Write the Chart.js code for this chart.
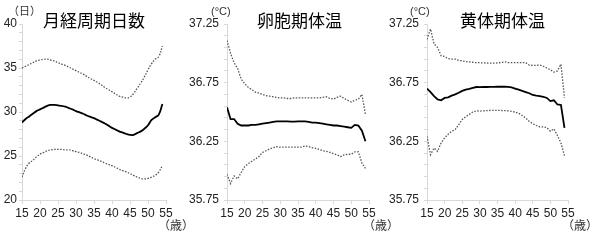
<!DOCTYPE html>
<html>
<head>
<meta charset="utf-8">
<script src="https://cdn.jsdelivr.net/npm/chart.js@4"></script>
<style>
  body { margin: 0; background: #fff; }
  #wrap { position: relative; width: 600px; height: 243px; overflow: hidden; }
  .panel { position: absolute; top: 0; }
  .txt { position: absolute; white-space: nowrap; color: #000; font-family: "Noto Sans CJK JP", sans-serif; line-height: 1; }
  .title { font-size: 17px; }
  .unit { font-size: 11px; color: #333; }
</style>
</head>
<body>
<div id="wrap">
  <canvas id="c1" class="panel" width="195" height="243" style="left:0"></canvas>
  <canvas id="c2" class="panel" width="210" height="243" style="left:185px"></canvas>
  <canvas id="c3" class="panel" width="215" height="243" style="left:385px"></canvas>

  <div class="txt title" style="left:43px;top:11px">月経周期日数</div>
  <div class="txt title" style="left:257px;top:11px">卵胞期体温</div>
  <div class="txt title" style="left:460px;top:11px">黄体期体温</div>

  <div class="txt unit" style="left:8px;top:5px">（日）</div>
  <div class="txt unit" style="left:211px;top:6px;font-family:'Liberation Sans',sans-serif">(°C)</div>
  <div class="txt unit" style="left:410px;top:6px;font-family:'Liberation Sans',sans-serif">(°C)</div>

  <div class="txt unit" style="left:158px;top:219px;font-size:12px">（歳）</div>
  <div class="txt unit" style="left:363px;top:219px;font-size:12px">（歳）</div>
  <div class="txt unit" style="left:562px;top:219px;font-size:12px">（歳）</div>
</div>

<script>
// --- DONNEES ---
const ages = [15,16,17,18,19,20,21,22,23,24,25,26,27,28,29,30,31,32,33,34,35,36,37,38,39,40,41,42,43,44,45,46,47,48,49,50,51,52,53,54];
const xTicks = [15, 20, 25, 30, 35, 40, 45, 50, 55];

// 月経周期日数
const cycleMean = [28.8,29.2,29.5,29.8,30.1,30.3,30.5,30.7,30.8,30.8, 30.75,30.7,30.6,30.45,30.3,30.1,29.95,29.8,29.6,29.45, 29.3,29.1,28.9,28.7,28.45,28.2,28.0,27.8,27.65,27.5, 27.4,27.4,27.6,27.8,28.1,28.5,29.1,29.4,29.7,30.9];
const cycleUpper = [35.0,35.2,35.4,35.6,35.8,35.9,36.0,36.0,35.9,35.8, 35.6,35.45,35.3,35.1,34.9,34.7,34.5,34.3,34.05,33.8, 33.6,33.35,33.1,32.8,32.55,32.3,32.05,31.8,31.7,31.6, 31.7,32.1,32.7,33.3,34.0,34.8,35.5,36.0,36.3,37.5];
const cycleLower = [22.6,23.6,24.2,24.5,24.9,25.2,25.4,25.6,25.7,25.75, 25.75,25.75,25.7,25.7,25.6,25.5,25.4,25.25,25.1,24.9, 24.7,24.55,24.4,24.2,24.05,23.9,23.7,23.5,23.35,23.2, 23.0,22.8,22.6,22.45,22.4,22.45,22.6,22.8,23.2,23.9];
const cycleTicks = [20, 25, 30, 35, 40];

// 卵胞期体温
const follMean = [36.54,36.44,36.44,36.40,36.385,36.385,36.385,36.39,36.39,36.395, 36.40,36.405,36.41,36.415,36.42,36.42,36.42,36.42,36.418,36.418, 36.42,36.42,36.42,36.415,36.41,36.41,36.405,36.40,36.395,36.39, 36.385,36.385,36.38,36.375,36.37,36.365,36.39,36.385,36.34,36.25];
const follUpper = [37.11,37.00,36.92,36.87,36.78,36.74,36.71,36.69,36.67,36.66, 36.65,36.64,36.635,36.63,36.625,36.62,36.62,36.615,36.615,36.62, 36.62,36.62,36.62,36.62,36.62,36.62,36.62,36.625,36.63,36.615, 36.61,36.625,36.635,36.615,36.60,36.585,36.60,36.61,36.65,36.48];
const follLower = [35.97,35.89,35.955,35.93,35.985,36.035,36.06,36.08,36.10,36.12, 36.155,36.17,36.185,36.195,36.205,36.20,36.20,36.20,36.20,36.20, 36.20,36.20,36.21,36.205,36.195,36.19,36.18,36.17,36.165,36.155, 36.145,36.135,36.12,36.135,36.14,36.14,36.16,36.16,36.065,36.02];

// 黄体期体温
const lutMean = [36.70,36.67,36.636,36.607,36.60,36.62,36.625,36.64,36.65,36.664, 36.68,36.69,36.697,36.705,36.713,36.712,36.713,36.713,36.714,36.714, 36.715,36.715,36.716,36.714,36.71,36.70,36.69,36.68,36.67,36.66, 36.645,36.64,36.636,36.63,36.62,36.593,36.60,36.564,36.56,36.364];
const lutUpper = [37.12,37.207,37.08,37.05,36.98,36.973,36.955,36.95,36.95,36.94, 36.936,36.93,36.927,36.924,36.92,36.92,36.918,36.917,36.916,36.916, 36.918,36.922,36.927,36.922,36.92,36.92,36.92,36.92,36.92,36.90, 36.897,36.898,36.90,36.89,36.875,36.86,36.84,36.85,36.907,36.62];
const lutLower = [36.293,36.136,36.193,36.164,36.236,36.279,36.31,36.336,36.35,36.393, 36.436,36.46,36.48,36.50,36.51,36.508,36.51,36.512,36.513,36.513, 36.513,36.513,36.512,36.51,36.505,36.499,36.49,36.47,36.45,36.42, 36.40,36.385,36.373,36.373,36.367,36.336,36.356,36.30,36.236,36.127];
const tempTicks = [35.75, 36.25, 36.75, 37.25];

// --- FONCTIONS ---
function pts(values) {
    return ages.map((a, i) => ({ x: a, y: values[i] }));
}

function minorTicks(min, max, step) {
    const out = [];
    const n = Math.round((max - min) / step);
    for (let i = 0; i <= n; i++) out.push({ value: +(min + i * step).toFixed(4) });
    return out;
}

function makeChart(id, series, yMin, yMax, yStep, majors, decimals, yWidth, labelPad, padRight, tension) {
    const ctx = document.getElementById(id);
    const dotted = { borderColor: '#555', borderWidth: 1.3, borderDash: [1.5, 1.5], pointRadius: 0, tension: tension };
    new Chart(ctx, {
        type: 'line',
        data: {
            datasets: [
                Object.assign({ data: pts(series[1]) }, dotted),
                Object.assign({ data: pts(series[2]) }, dotted),
                { data: pts(series[0]), borderColor: '#000', borderWidth: 1.8, pointRadius: 0, tension: tension }
            ]
        },
        options: {
            responsive: false,
            animation: false,
            events: [],
            layout: { padding: { left: 0, top: 24, right: padRight, bottom: 23 } },
            plugins: { legend: { display: false }, tooltip: { enabled: false } },
            scales: {
                x: {
                    type: 'linear', min: 15, max: 55,
                    afterBuildTicks: s => { s.ticks = xTicks.map(v => ({ value: v })); },
                    afterFit: s => { s.height = 20; },
                    grid: { drawOnChartArea: false, tickLength: 4, tickColor: '#d9d9d9' },
                    border: { color: '#d9d9d9' },
                    ticks: { autoSkip: false, maxRotation: 0, padding: 2, color: '#222', font: { family: 'Liberation Sans', size: 12 } }
                },
                y: {
                    type: 'linear', min: yMin, max: yMax,
                    afterBuildTicks: s => { s.ticks = minorTicks(yMin, yMax, yStep); },
                    afterFit: s => { s.width = yWidth; },
                    grid: { drawOnChartArea: false, tickLength: 3, tickColor: '#d9d9d9' },
                    border: { color: '#d9d9d9' },
                    ticks: {
                        autoSkip: false, padding: labelPad, color: '#222',
                        font: { family: 'Liberation Sans', size: 12 },
                        callback: v => majors.some(m => Math.abs(m - v) < 1e-6) ? v.toFixed(decimals) : ''
                    }
                }
            }
        }
    });
}

// --- AFFICHAGE ---
makeChart('c1', [cycleMean, cycleUpper, cycleLower], 20, 40, 1, cycleTicks, 0, 22, 2, 29, 0.4);
makeChart('c2', [follMean, follUpper, follLower], 35.75, 37.25, 0.1, tempTicks, 2, 42, 5, 26, 0);
makeChart('c3', [lutMean, lutUpper, lutLower], 35.75, 37.25, 0.1, tempTicks, 2, 42, 5, 32, 0);
</script>
</body>
</html>
